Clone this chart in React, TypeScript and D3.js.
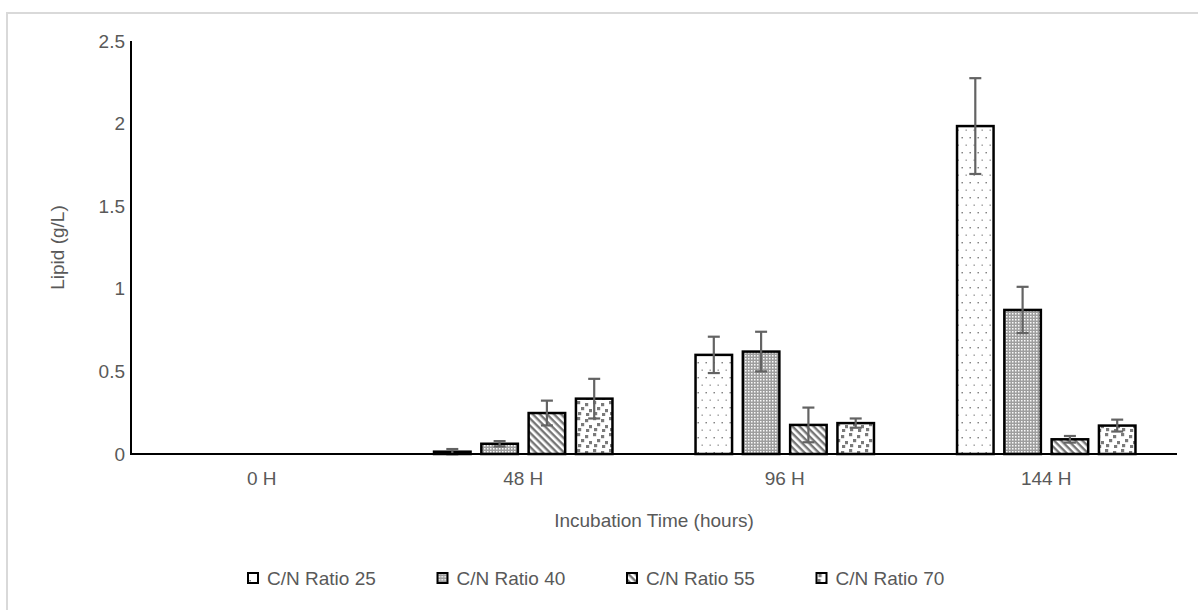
import React, { useEffect, useRef } from 'react';
import * as d3 from 'd3';

const categories = ['0 H', '48 H', '96 H', '144 H'];
const seriesNames = ['C/N Ratio 25', 'C/N Ratio 40', 'C/N Ratio 55', 'C/N Ratio 70'];
const ratio25 = [0, 0.014, 0.6, 1.985];
const ratio40 = [0, 0.062, 0.62, 0.872];
const ratio55 = [0, 0.248, 0.176, 0.089];
const ratio70 = [0, 0.335, 0.187, 0.172];
const err25 = [0, 0.016, 0.11, 0.29];
const err40 = [0, 0.016, 0.12, 0.14];
const err55 = [0, 0.075, 0.105, 0.02];
const err70 = [0, 0.12, 0.028, 0.036];
const yTicks = [0, 0.5, 1, 1.5, 2, 2.5];

const values = [ratio25, ratio40, ratio55, ratio70];
const errors = [err25, err40, err55, err70];
const patternIds = ['p25', 'p40', 'p55', 'p70'];

const FONT = 'Liberation Sans, Arial, sans-serif';
const TEXT = '#595959';
const FS = 19;

function App() {
    const svgRef = useRef(null);

    useEffect(() => {
        if (!svgRef.current) return;
        const svg = d3.select(svgRef.current);
        svg.selectAll('*').remove();

        // patterns for the bar fills
        const defs = svg.append('defs');

        const p25 = defs.append('pattern').attr('id', 'p25').attr('patternUnits', 'userSpaceOnUse')
            .attr('width', 8).attr('height', 15);
        p25.append('rect').attr('width', 8).attr('height', 15).attr('fill', '#fff');
        p25.append('rect').attr('x', 1.5).attr('y', 2).attr('width', 1.4).attr('height', 1.4).attr('fill', '#777');
        p25.append('rect').attr('x', 5.5).attr('y', 9.5).attr('width', 1.4).attr('height', 1.4).attr('fill', '#999');

        const p40 = defs.append('pattern').attr('id', 'p40').attr('patternUnits', 'userSpaceOnUse')
            .attr('width', 3).attr('height', 3);
        p40.append('rect').attr('width', 3).attr('height', 3).attr('fill', '#9e9e9e');
        p40.append('rect').attr('x', 1).attr('y', 1).attr('width', 1.5).attr('height', 1.5).attr('fill', '#fafafa');

        const p55 = defs.append('pattern').attr('id', 'p55').attr('patternUnits', 'userSpaceOnUse')
            .attr('width', 5).attr('height', 5).attr('patternTransform', 'rotate(45)');
        p55.append('rect').attr('width', 5).attr('height', 5).attr('fill', '#fff');
        p55.append('rect').attr('width', 5).attr('height', 2.4).attr('fill', '#777');

        const p70 = defs.append('pattern').attr('id', 'p70').attr('patternUnits', 'userSpaceOnUse')
            .attr('width', 16).attr('height', 16);
        p70.append('rect').attr('width', 16).attr('height', 16).attr('fill', '#fff');
        [[1, 1], [9, 3], [5, 7], [13, 9], [2, 12], [10, 13]].forEach(([x, y]) => {
            p70.append('rect').attr('x', x).attr('y', y).attr('width', 3.2).attr('height', 3.2).attr('fill', '#7a7a7a');
        });

        // outer frame
        svg.append('rect')
            .attr('x', 7).attr('y', 13).attr('width', 1210).attr('height', 620)
            .attr('fill', 'none').attr('stroke', '#d9d9d9').attr('stroke-width', 2);

        const left = 131, right = 1177, top = 41, bottom = 454;

        const x0 = d3.scaleBand().domain(categories).range([left, right]);
        const groupW = 189.2;
        const x1 = d3.scaleBand().domain(seriesNames)
            .range([(x0.bandwidth() - groupW) / 2, (x0.bandwidth() + groupW) / 2])
            .paddingInner(0.175).paddingOuter(0.0875);
        const y = d3.scaleLinear().domain([0, 2.5]).range([bottom, top]);

        // bars
        const sw = 2.5;
        seriesNames.forEach((s, si) => {
            const g = svg.append('g');
            categories.forEach((c, ci) => {
                const v = values[si][ci];
                if (v <= 0) return;
                const bx = x0(c) + x1(s);
                g.append('rect')
                    .attr('x', bx + sw / 2)
                    .attr('y', y(v))
                    .attr('width', x1.bandwidth() - sw)
                    .attr('height', y(0) - y(v))
                    .attr('fill', `url(#${patternIds[si]})`)
                    .attr('stroke', '#000')
                    .attr('stroke-width', sw);
            });
        });

        // error bars
        seriesNames.forEach((s, si) => {
            categories.forEach((c, ci) => {
                const v = values[si][ci];
                const e = errors[si][ci];
                if (v <= 0) return;
                const cx = x0(c) + x1(s) + x1.bandwidth() / 2;
                const g = svg.append('g').attr('stroke', '#636363').attr('stroke-width', 2.2);
                g.append('line').attr('x1', cx).attr('x2', cx).attr('y1', y(v + e)).attr('y2', y(v - e));
                g.append('line').attr('x1', cx - 6).attr('x2', cx + 6).attr('y1', y(v + e)).attr('y2', y(v + e));
                g.append('line').attr('x1', cx - 6).attr('x2', cx + 6).attr('y1', y(v - e)).attr('y2', y(v - e));
            });
        });

        // axes
        svg.append('line').attr('x1', left).attr('x2', left).attr('y1', top).attr('y2', bottom)
            .attr('stroke', '#000').attr('stroke-width', 2);
        svg.append('line').attr('x1', left - 1).attr('x2', right).attr('y1', bottom).attr('y2', bottom)
            .attr('stroke', '#000').attr('stroke-width', 2);

        svg.append('g').selectAll('text').data(yTicks).join('text')
            .attr('x', 125).attr('y', d => y(d)).attr('dy', '0.35em')
            .attr('text-anchor', 'end').attr('font-family', FONT).attr('font-size', FS)
            .attr('fill', TEXT).text(d => String(d));

        svg.append('g').selectAll('text').data(categories).join('text')
            .attr('x', d => x0(d) + x0.bandwidth() / 2).attr('y', 485)
            .attr('text-anchor', 'middle').attr('font-family', FONT).attr('font-size', FS)
            .attr('fill', TEXT).text(d => d);

        svg.append('text')
            .attr('x', (left + right) / 2).attr('y', 527)
            .attr('text-anchor', 'middle').attr('font-family', FONT).attr('font-size', FS)
            .attr('fill', TEXT).text('Incubation Time (hours)');

        svg.append('text')
            .attr('transform', `translate(64, ${(top + bottom) / 2}) rotate(-90)`)
            .attr('text-anchor', 'middle').attr('font-family', FONT).attr('font-size', FS)
            .attr('fill', TEXT).text('Lipid (g/L)');

        // legend
        const legend = svg.append('g').attr('transform', 'translate(248, 578)');
        seriesNames.forEach((s, si) => {
            const item = legend.append('g').attr('transform', `translate(${si * 189.5}, 0)`);
            item.append('rect').attr('x', 0).attr('y', -5).attr('width', 10).attr('height', 10)
                .attr('fill', `url(#${patternIds[si]})`).attr('stroke', '#000').attr('stroke-width', 2);
            item.append('text').attr('x', 19).attr('y', 0).attr('dy', '0.35em')
                .attr('font-family', FONT).attr('font-size', FS).attr('fill', TEXT).text(s);
        });
    }, []);

    return (
        <svg ref={svgRef} width={1198} height={610}
            style={{ position: 'absolute', left: 0, top: 0, background: '#fff' }} />
    );
}

export default App;
